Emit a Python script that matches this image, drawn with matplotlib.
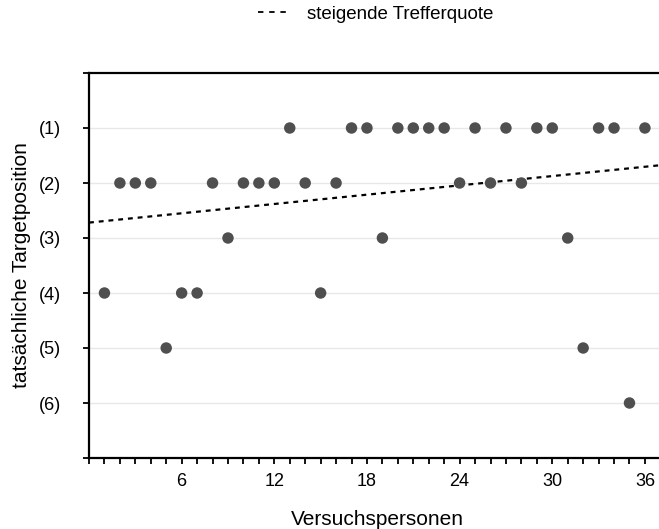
import matplotlib
matplotlib.use("Agg")
import matplotlib.pyplot as plt
import numpy as np
from matplotlib.lines import Line2D

plt.rcParams['font.family'] = ['Liberation Sans', 'DejaVu Sans']

participants = list(range(1, 37))
positions = [4, 2, 2, 2, 5, 4, 4, 2, 3, 2, 2, 2, 1, 2, 4, 2, 1, 1, 3, 1,
             1, 1, 1, 2, 1, 2, 1, 2, 1, 1, 3, 5, 1, 1, 6, 1]
ytick_labels = ["(1)", "(2)", "(3)", "(4)", "(5)", "(6)"]
xtick_labels = ["6", "12", "18", "24", "30", "36"]
trend_intercept = 2.72
trend_slope = -0.0282

fig = plt.figure(figsize=(6.59, 5.29), dpi=100)
ax = fig.add_axes([89/659, 1 - 458/529, (665 - 89)/659, (458 - 73)/529])

xmax = 37.3
ax.set_xlim(0, xmax)
ax.set_ylim(7, 0)

for y in range(1, 7):
    ax.axhline(y, color='#e8e8e8', lw=1, zorder=0)

ax.scatter(participants, positions, s=68, color='#4f4f4f', zorder=3, edgecolors='none')

xs = np.array([0, xmax])
ax.plot(xs, trend_intercept + trend_slope * xs, color='black', lw=1.6,
        linestyle=(0, (2.2, 2.2)), zorder=2)

ax.set_xticks(range(0, 38))
ax.set_xticklabels(["" if i % 6 or i == 0 else str(i) for i in range(0, 38)])
ax.set_yticks(range(0, 8))
ax.set_yticklabels([""] + ytick_labels + [""])
ax.tick_params(axis='both', labelsize=13, direction='out', length=4, width=1.3, colors='black')
ax.tick_params(axis='x', pad=7)
ax.tick_params(axis='y', pad=16)

for side in ['left', 'bottom', 'top']:
    ax.spines[side].set_linewidth(1.6)
ax.spines['right'].set_visible(False)

ax.set_xlabel("Versuchspersonen", fontsize=15, labelpad=14)
ax.set_ylabel("tatsächliche Targetposition", fontsize=15, labelpad=6)

handle = Line2D([], [], color='black', lw=1.3, linestyle=(0, (3.0, 3.2)))
fig.legend([handle], ["steigende Trefferquote"], loc='center', bbox_to_anchor=(376/659, 1 - 14/529),
           frameon=False, fontsize=13.5, handlelength=1.7, handletextpad=0.9)

fig.savefig("out.png", dpi=100)
